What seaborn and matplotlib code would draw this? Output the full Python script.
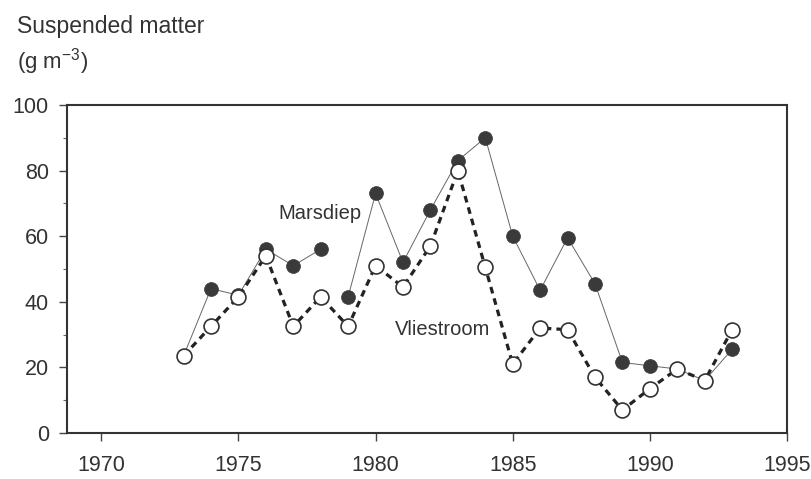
import matplotlib
matplotlib.use("Agg")
import matplotlib.pyplot as plt
from matplotlib.ticker import MultipleLocator
import seaborn as sns
import pandas as pd
import numpy as np

years = list(range(1973, 1994))
marsdiep = [23.5, 44, 42, 56, 51, 56, 41.5, 73, 52, 68, 83, 90, 60, 43.5, 59.5, 45.5, 21.5, 20.5, 19.5, 16, 25.5]
vliestroom = [23.5, 32.5, 41.5, 54, 32.5, 41.5, 32.5, 51, 44.5, 57, 80, 50.5, 21, 32, 31.5, 17, 7, 13.5, 19.5, 16, 31.5]
x_ticks = [1970, 1975, 1980, 1985, 1990, 1995]
y_ticks = [0, 20, 40, 60, 80, 100]

df = pd.DataFrame({"year": years, "Marsdiep": marsdiep, "Vliestroom": vliestroom})

sns.set_style("ticks")
plt.rcParams["font.family"] = ["Liberation Sans", "DejaVu Sans"]
plt.rcParams["mathtext.fontset"] = "custom"
plt.rcParams["mathtext.rm"] = "Liberation Sans"
plt.rcParams["mathtext.it"] = "Liberation Sans"
txt = "#333333"

fig = plt.figure(figsize=(8.11, 4.79), dpi=100)
ax = fig.add_axes([0.0826, 0.096, 0.8878, 0.685])

# Marsdiep: thin solid line (break between 1978 and 1979), filled markers
first = df[df.year <= 1978]
second = df[df.year >= 1979]
for part in (first, second):
    sns.lineplot(data=part, x="year", y="Marsdiep", ax=ax, color="#666666",
                 linewidth=0.7, zorder=2)
sns.scatterplot(data=df, x="year", y="Marsdiep", ax=ax, color="#3a3a3a",
                s=100, edgecolor="#3a3a3a", linewidth=0.5, zorder=3)

# Vliestroom: heavy dashed line, open markers
sns.lineplot(data=df, x="year", y="Vliestroom", ax=ax, color="#222222",
             linewidth=2.3, dashes=False, zorder=4)
ax.lines[-1].set_dashes((2.1, 1.6))
sns.scatterplot(data=df, x="year", y="Vliestroom", ax=ax, color="white",
                s=115, edgecolor="#333333", linewidth=1.2, zorder=5)

ax.text(1976.45, 67, "Marsdiep", fontsize=14.5, color=txt, va="center")
ax.text(1980.7, 31.4, "Vliestroom", fontsize=14.5, color=txt, va="center")

ax.set_xlim(1968.75, 1995)
ax.set_ylim(0, 100)
ax.set_xticks(x_ticks)
ax.set_yticks(y_ticks)
ax.yaxis.set_minor_locator(MultipleLocator(10))
ax.set_xlabel("")
ax.set_ylabel("")
ax.tick_params(axis="both", which="major", labelsize=15.5, labelcolor=txt,
               color="#444444", width=1.0, length=6, pad=7)
ax.tick_params(axis="x", which="major", pad=10)
ax.tick_params(axis="y", which="minor", length=3, width=0.8, color="#666666")
for sp in ax.spines.values():
    sp.set_visible(True)
    sp.set_color("#333333")
    sp.set_linewidth(1.5)

fig.text(17 / 811, 1 - 26 / 479, "Suspended matter", fontsize=16.5, color=txt, va="center")
fig.text(17 / 811, 1 - 62 / 479, "(g m$^{-3}$)", fontsize=16, color=txt, va="center")

fig.savefig("out.png", dpi=100)
